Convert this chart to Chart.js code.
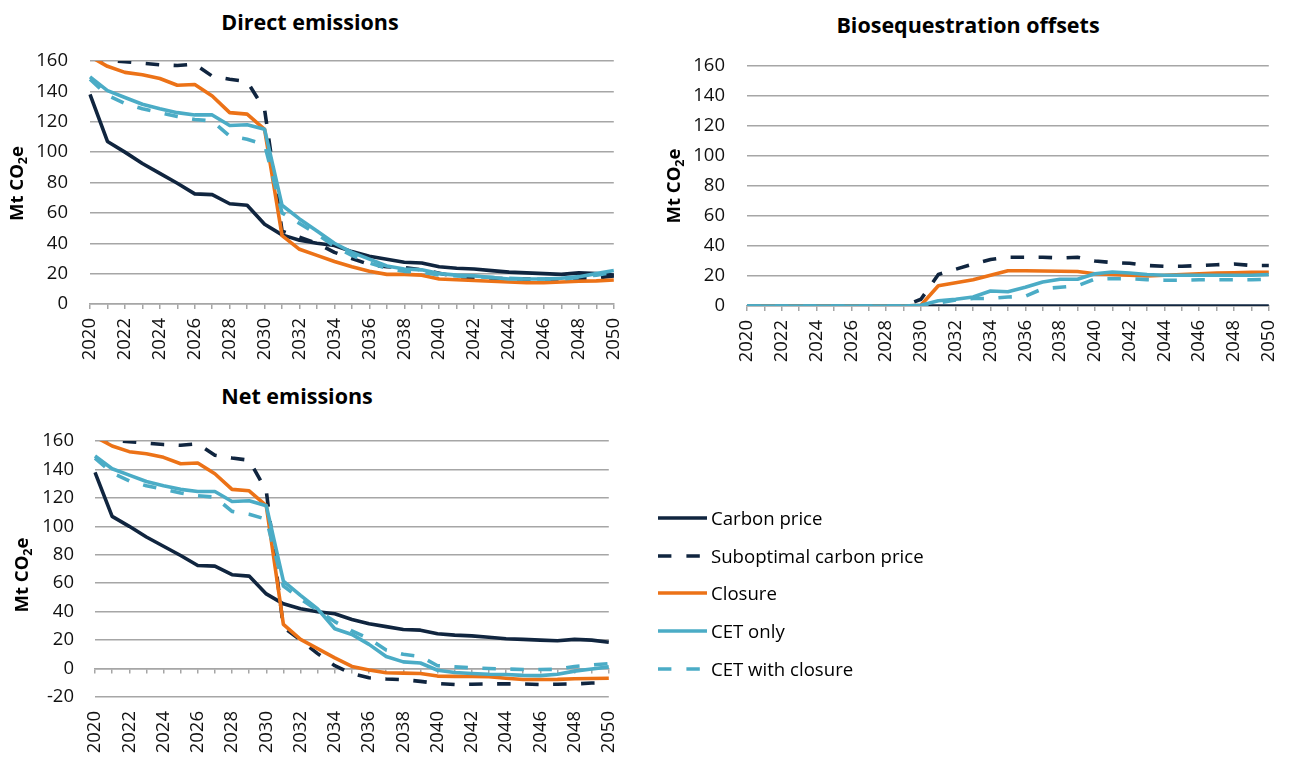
<!DOCTYPE html>
<html>
<head>
<meta charset="utf-8">
<script src="https://cdn.jsdelivr.net/npm/chart.js@4.4.1/dist/chart.umd.min.js"></script>
<style>
  html, body { margin: 0; padding: 0; background: #fff; }
  body { width: 1300px; height: 758px; position: relative; overflow: hidden; font-family: "Open Sans", Lato, sans-serif; }
  canvas { position: absolute; }
  .title { position: absolute; transform: translate(-50%, -50%); font-weight: bold; font-size: 21.5px; line-height: 1; color: #000; white-space: nowrap; }
  .lg { position: absolute; left: 711px; transform: translateY(-50%); font-size: 18.6px; line-height: 1; color: #000; white-space: nowrap; }
</style>
</head>
<body>
<div class="title" style="left:310px; top:22px;">Direct emissions</div>
<div class="title" style="left:968px; top:25px;">Biosequestration offsets</div>
<div class="title" style="left:297px; top:396px;">Net emissions</div>

<canvas id="cA" width="645" height="390" style="left:0px; top:0px;"></canvas>
<canvas id="cB" width="645" height="390" style="left:655px; top:0px;"></canvas>
<canvas id="cC" width="645" height="378" style="left:0px; top:380px;"></canvas>

<svg id="legendSvg" width="1300" height="758" style="position:absolute; left:0; top:0; pointer-events:none;"></svg>
<div id="legendText"></div>

<script>
// ---------- Data ----------
const years = ['2020','2021','2022','2023','2024','2025','2026','2027','2028','2029','2030',
               '2031','2032','2033','2034','2035','2036','2037','2038','2039','2040',
               '2041','2042','2043','2044','2045','2046','2047','2048','2049','2050'];

const seriesNames = ['Carbon price', 'Suboptimal carbon price', 'Closure', 'CET only', 'CET with closure'];

// Direct emissions (Mt CO2e)
const directCarbonPrice = [138, 107, 100, 92.5, 86, 79.5, 72.5, 72, 66, 65, 52.5, 45.5, 42, 40, 38.5, 34.5, 31.5, 29.5, 27.5, 27, 24.5, 23.5, 23, 22, 21, 20.5, 20, 19.5, 20.5, 20, 19];
const directSuboptimal  = [162, 160.5, 159.5, 158.5, 157.5, 157, 158, 150, 148, 146.5, 128, 48, 44, 40, 34, 30, 26, 24.5, 24, 22.5, 20.3, 18, 17.5, 17, 16.5, 16.5, 16.5, 16.5, 17, 17, 18.5];
const directClosure     = [163, 156.5, 152.5, 151, 148.5, 144, 144.5, 137, 126, 125, 115, 45, 36, 32, 28, 24.5, 21.5, 19.5, 19.5, 19, 16.5, 16, 15.5, 15, 14.5, 14, 14, 14.5, 15, 15.2, 15.8];
const directCetOnly     = [149.5, 140.5, 136, 131.5, 128.5, 126, 124.5, 124.5, 117.5, 118, 115, 65, 56, 48, 40, 34, 29.5, 25, 23, 22.5, 20, 19, 18.5, 17.5, 16.5, 16.5, 16.5, 17, 18, 20, 22];
const directCetClosure  = [148, 137.5, 132, 128.5, 126, 123.5, 121.5, 120.5, 110.5, 108.5, 105, 60, 53, 46, 38, 32, 27, 23.5, 21.5, 21, 19, 18.5, 18, 17.5, 17, 16.5, 16.5, 16.5, 17.5, 19, 21];

// Biosequestration offsets (Mt CO2e)
const bioCarbonPrice = [0,0,0,0,0,0,0,0,0,0,0, 0,0,0,0,0,0,0,0,0,0, 0,0,0,0,0,0,0,0,0,0];
const bioSuboptimal  = [0,0,0,0,0,0,0,0,0,0,4.5, 21, 24.5, 28, 31, 32.5, 32.5, 32.5, 32, 32.5, 30, 29, 28.5, 27, 26.5, 26.5, 27, 27.5, 28, 27, 27];
const bioClosure     = [0,0,0,0,0,0,0,0,0,0,0.5, 13.5, 15.5, 17.5, 20.5, 23.5, 23.5, 23.3, 23.2, 23, 21.5, 21, 20.5, 20, 20.5, 21, 21.5, 22, 22.2, 22.5, 22.5];
const bioCetOnly     = [0,0,0,0,0,0,0,0,0,0,0.5, 3.5, 4.5, 6, 10, 9.5, 12.5, 16, 17.8, 17.8, 21.5, 22.7, 22, 21, 20.5, 20.5, 20.5, 20.5, 20.5, 20.5, 21];
const bioCetClosure  = [0,0,0,0,0,0,0,0,0,0,0, 2, 4, 5, 5, 6, 6.5, 11.5, 12.5, 13.5, 18, 18.2, 18.2, 17.6, 17.2, 17.2, 17.5, 17.5, 17.5, 17.5, 17.8];

// Net emissions (Mt CO2e)
const netCarbonPrice = [138, 107, 100, 92.5, 86, 79.5, 72.5, 72, 66, 65, 52.5, 45.5, 42, 40, 38.5, 34.5, 31.5, 29.5, 27.5, 27, 24.5, 23.5, 23, 22, 21, 20.5, 20, 19.5, 20.5, 20, 18.5];
const netSuboptimal  = [162, 160.5, 159.5, 158.5, 157.5, 157, 158, 150, 148, 146.5, 125, 29, 20, 10.5, 2, -3.5, -6.5, -7.3, -7.8, -9, -10.5, -11.2, -11, -10.8, -10.8, -10.8, -11.2, -11, -10.8, -10.2, -10];
const netClosure     = [163, 156.5, 152.5, 151, 148.5, 144, 144.5, 137, 126, 125, 114.5, 31, 20.5, 14, 7.5, 1.5, -1, -3, -3.2, -3.5, -5.3, -5.5, -5.6, -5.8, -6.8, -7.7, -7.7, -7.6, -7.2, -7, -6.8];
const netCetOnly     = [149.5, 140.5, 136, 131.5, 128.5, 126, 124.5, 124.5, 117.5, 118, 114.5, 61.5, 51.5, 42, 28, 24, 17, 8.5, 4.7, 3.9, -1.2, -2.8, -3.5, -4, -4.2, -4.8, -5, -4, -1.8, -0.3, 1.2];
const netCetClosure  = [148, 137.5, 132, 128.5, 126, 123.5, 121.5, 120.5, 110.5, 108.5, 105, 58, 49, 41, 33, 26.5, 21, 13, 10, 8.5, 2, 1.2, 0.5, 0, -0.3, -0.7, -0.7, -0.5, 1.5, 2.5, 3.5];

// ---------- Styles ----------
const NAVY = '#10253f', ORANGE = '#ec7217', TEAL = '#4bacc6';
const GRID = '#a6a6a6';
const FONT = '"Open Sans", Lato, sans-serif';
const TICK_SIZE = 18.5;
const styles = [
  { color: NAVY,   dash: [] },
  { color: NAVY,   dash: [13.5, 14.5] },
  { color: ORANGE, dash: [] },
  { color: TEAL,   dash: [] },
  { color: TEAL,   dash: [13.5, 14.5] }
];

function makeDatasets(arrs) {
  return arrs.map((d, i) => ({
    label: seriesNames[i],
    data: d,
    borderColor: styles[i].color,
    backgroundColor: styles[i].color,
    borderDash: styles[i].dash,
    borderWidth: 3.6,
    borderCapStyle: 'butt',
    borderJoinStyle: 'round',
    pointRadius: 0,
    tension: 0,
    fill: false,
    order: 5 - i
  }));
}

const yTitlePlugin = {
  id: 'yTitle',
  afterDraw(chart, args, opts) {
    const { ctx, chartArea } = chart;
    const cy = (chartArea.top + chartArea.bottom) / 2 + (opts.dy || 0);
    ctx.save();
    ctx.translate(opts.x, cy);
    ctx.rotate(-Math.PI / 2);
    ctx.fillStyle = '#000';
    ctx.textBaseline = 'alphabetic';
    ctx.textAlign = 'left';
    const big = 'bold 18.5px ' + FONT, small = 'bold 12.5px ' + FONT;
    ctx.font = big;
    const w1 = ctx.measureText('Mt CO').width;
    const w3 = ctx.measureText('e').width;
    ctx.font = small;
    const w2 = ctx.measureText('2').width;
    const total = w1 + w2 + w3;
    let x = -total / 2;
    const base = 6.6;
    ctx.font = big; ctx.fillText('Mt CO', x, base); x += w1;
    ctx.font = small; ctx.fillText('2', x, base + 4); x += w2;
    ctx.font = big; ctx.fillText('e', x, base);
    ctx.restore();
  }
};

function makeChart(id, arrs, cfg) {
  const scales = {
    x: {
      type: 'category',
      offset: false,
      grid: { drawOnChartArea: false, drawTicks: cfg.xTicks, tickLength: 5, color: GRID, tickColor: GRID, lineWidth: 1.5 },
      border: { display: cfg.xBorder, color: GRID, width: 1.5 },
      ticks: {
        autoSkip: false, minRotation: 90, maxRotation: 90, padding: cfg.xPad,
        color: '#111', font: { family: FONT, size: TICK_SIZE },
        callback: function (v, i) { return i % 2 === 0 ? years[i] : ''; }
      },
      afterFit: (s) => { s.height = cfg.xHeight; }
    },
    y: {
      min: cfg.yMin, max: 160,
      grid: { color: GRID, lineWidth: 1.5, drawTicks: false },
      border: { display: false },
      ticks: { stepSize: 20, padding: cfg.yPad, color: '#111', font: { family: FONT, size: TICK_SIZE } },
      afterFit: (s) => { s.width = cfg.yWidth; }
    }
  };
  if (cfg.zeroAxis) {
    scales.x2 = {
      type: 'category',
      position: { y: 0 },
      offset: false,
      grid: { drawOnChartArea: false, drawTicks: true, tickLength: 4, color: GRID, tickColor: GRID, lineWidth: 1.5 },
      border: { display: true, color: GRID, width: 1.5 },
      ticks: { display: false }
    };
  }
  return new Chart(document.getElementById(id), {
    type: 'line',
    data: { labels: years, datasets: makeDatasets(arrs) },
    options: {
      responsive: false,
      animation: false,
      layout: { padding: { left: 0, top: cfg.padTop, right: cfg.padRight, bottom: 0 } },
      scales: scales,
      plugins: {
        legend: { display: false },
        tooltip: { enabled: false },
        yTitle: { x: cfg.titleX, dy: cfg.titleDy }
      }
    },
    plugins: [yTitlePlugin]
  });
}

makeChart('cA', [directCarbonPrice, directSuboptimal, directClosure, directCetOnly, directCetClosure],
  { yMin: 0, yWidth: 90, padTop: 61, padRight: 19, xHeight: 86, xTicks: true, xBorder: true, xPad: 9, yPad: 22, titleX: 16.5, titleDy: 1 });

makeChart('cB', [bioCarbonPrice, bioSuboptimal, bioClosure, bioCetOnly, bioCetClosure],
  { yMin: 0, yWidth: 92, padTop: 66, padRight: 18, xHeight: 84, xTicks: true, xBorder: true, xPad: 9, yPad: 22, titleX: 18, titleDy: 0 });

makeChart('cC', [netCarbonPrice, netSuboptimal, netClosure, netCetOnly, netCetClosure],
  { yMin: -20, yWidth: 95, padTop: 61, padRight: 17, xHeight: 61, xTicks: false, xBorder: false, xPad: 14, yPad: 21, titleX: 21.5, titleDy: 6, zeroAxis: true });

// ---------- Legend (HTML/SVG) ----------
const legendY = [518, 556, 593, 631, 669];
const svg = document.getElementById('legendSvg');
const txt = document.getElementById('legendText');
seriesNames.forEach((name, i) => {
  const line = document.createElementNS('http://www.w3.org/2000/svg', 'line');
  const dashed = styles[i].dash.length > 0;
  line.setAttribute('x1', 658);
  line.setAttribute('x2', dashed ? 700 : 707);
  line.setAttribute('y1', legendY[i]);
  line.setAttribute('y2', legendY[i]);
  line.setAttribute('stroke', styles[i].color);
  line.setAttribute('stroke-width', 3.6);
  if (dashed) line.setAttribute('stroke-dasharray', '13.4 15');
  svg.appendChild(line);
  const d = document.createElement('div');
  d.className = 'lg';
  d.style.top = legendY[i] + 'px';
  d.textContent = name;
  txt.appendChild(d);
});
</script>
</body>
</html>
